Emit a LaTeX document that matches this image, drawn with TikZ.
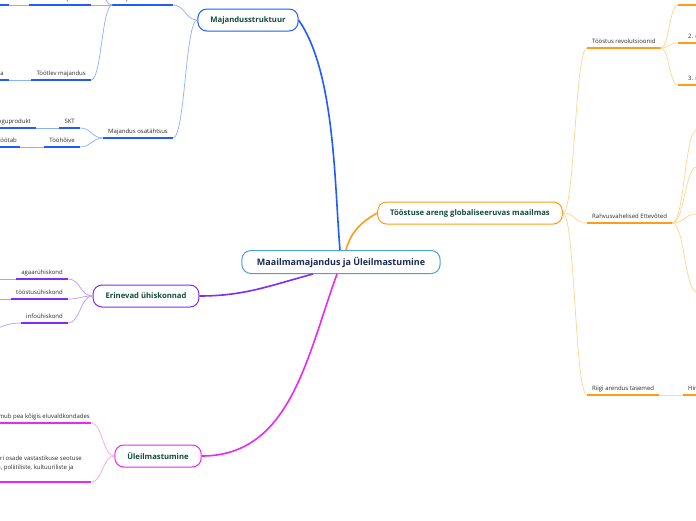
\documentclass[tikz,border=0pt]{standalone}
\usepackage{fontspec}
\setmainfont{Open Sans}
\usetikzlibrary{calc}

\definecolor{bordracine}{HTML}{4F9FD8}
\definecolor{texteracine}{HTML}{1B2A55}
\definecolor{textesujet}{HTML}{114D3C}
\definecolor{textefeuille}{HTML}{2B2B2B}
\definecolor{bleuvif}{HTML}{1F5BFF}
\definecolor{bleupale}{HTML}{8CB0FF}
\definecolor{violetvif}{HTML}{7D2EF5}
\definecolor{violetpale}{HTML}{B89BFF}
\definecolor{rosevif}{HTML}{EA28F5}
\definecolor{rosepale}{HTML}{F5A3FA}
\definecolor{orangevif}{HTML}{FF9C1A}
\definecolor{orangepale}{HTML}{FFD58F}

\begin{document}
\begin{tikzpicture}[
    x=1pt, y=-1pt,
    racine/.style={draw=bordracine, line width=1pt, rounded corners=9pt, fill=white,
      text=texteracine, font=\fontsize{9}{11}\selectfont\bfseries,
      minimum height=23pt, inner xsep=15pt},
    sujet/.style={draw=#1, line width=1pt, rounded corners=9pt, fill=white,
      text=textesujet, font=\fontsize{7.7}{9}\selectfont\bfseries,
      minimum height=22pt, inner xsep=12.5pt},
    feuille/.style={font=\fontsize{6}{7.5}\selectfont, text=textefeuille,
      inner xsep=5pt, inner ysep=2.5pt, text height=4.4pt, text depth=1.5pt,
      append after command={(\tikzlastnode.south west) edge[draw=#1, line width=1.4pt] (\tikzlastnode.south east)}},
    branche/.style={draw=#1, line width=1.6pt},
    lien/.style={draw=#1, line width=0.7pt},
    courbe/.style={to path={.. controls ($(\tikztostart)!.5!(\tikztotarget |- \tikztostart)$)
      and ($(\tikztotarget)!.5!(\tikztostart |- \tikztotarget)$) .. (\tikztotarget)}},
  ]
  \path[use as bounding box, fill=white] (0,0) rectangle (696,520);

  % le centre et les quatre sujets
  \node[racine] (monde) at (341,262) {Maailmamajandus ja Üleilmastumine};
  \node[sujet=bleuvif] (struktuur) at (248,20) {Majandusstruktuur};
  \node[sujet=violetvif] (yhiskond) at (146,296) {Erinevad ühiskonnad};
  \node[sujet=rosevif] (globaal) at (158,456) {Üleilmastumine};
  \node[sujet=orangevif] (toostus) at (470,213) {Tööstuse areng globaliseeruvas maailmas};

  \draw[branche=bleuvif] ([xshift=-1pt]monde.north) to[out=95,in=-55,looseness=.7] (struktuur.east);
  \draw[branche=orangevif] ([xshift=5pt]monde.north) to[out=75,in=210] (toostus.west);
  \draw[branche=violetvif] ([xshift=-28pt]monde.south) to[out=195,in=0] (yhiskond.east);
  \draw[branche=rosevif] ([xshift=-4pt]monde.south) to[out=250,in=0] (globaal.east);

  % Majandusstruktuur
  \node[feuille=bleuvif, anchor=south east] (sektorid) at (173,5) {Majandussektorid};
  \coordinate (sektor0) at (91,-25);
  \node[feuille=bleuvif, anchor=south east] (esmane) at (91,5) {Esmane majandus};
  \node[feuille=bleuvif, anchor=south east] (esmane2) at (9,5) {Põllumajandus, metsandus ja kalandus};
  \node[feuille=bleuvif, anchor=south east] (tootlev) at (91,80) {Töötlev majandus};
  \node[feuille=bleuvif, anchor=south east] (tootlev2) at (9,80) {Tööstus ja energeetika};
  \node[feuille=bleuvif, anchor=south east] (osa) at (173,138) {Majandus osatähtsus};
  \node[feuille=bleuvif, anchor=south east] (skt) at (80,128) {SKT};
  \node[feuille=bleuvif, anchor=south east] (kogu) at (36,128) {Sisemajanduse koguprodukt};
  \node[feuille=bleuvif, anchor=south east] (hoive) at (80,147) {Tööhõive};
  \node[feuille=bleuvif, anchor=south east, inner xsep=3pt] (tootab) at (20,147) {Kus rahvastik töötab};

  \draw[lien=bleupale] (struktuur.west) to[courbe] (sektorid.south east);
  \draw[lien=bleupale] (struktuur.west) to[courbe] (osa.south east);
  \draw[lien=bleupale] (sektorid.south west) to[courbe] (sektor0);
  \draw[lien=bleupale] (sektorid.south west) to[courbe] (esmane.south east);
  \draw[lien=bleupale] (sektorid.south west) to[courbe] (tootlev.south east);
  \draw[lien=bleupale] (esmane.south west) -- (esmane2.south east);
  \draw[lien=bleupale] (tootlev.south west) -- (tootlev2.south east);
  \draw[lien=bleupale] (osa.south west) to[courbe] (skt.south east);
  \draw[lien=bleupale] (osa.south west) to[courbe] (hoive.south east);
  \draw[lien=bleupale] (skt.south west) -- (kogu.south east);
  \draw[lien=bleupale] (hoive.south west) -- (tootab.south east);

  % Erinevad ühiskonnad
  \node[feuille=violetvif, anchor=south east] (agraar) at (68,279) {agaarühiskond};
  \node[feuille=violetvif, anchor=south east] (toostusyh) at (68,299) {tööstusühiskond};
  \node[feuille=violetvif, anchor=south east] (info) at (68,323) {infoühiskond};
  \coordinate (agraar2) at (-10,279);
  \coordinate (toostusyh2) at (-10,299);
  \coordinate (info2) at (-20,331);

  \draw[lien=violetpale] (yhiskond.west) to[courbe] (agraar.south east);
  \draw[lien=violetpale] (yhiskond.west) to[courbe] (toostusyh.south east);
  \draw[lien=violetpale] (yhiskond.west) to[courbe] (info.south east);
  \draw[lien=violetpale] (agraar.south west) -- (agraar2);
  \draw[lien=violetpale] (toostusyh.south west) -- (toostusyh2);
  \draw[lien=violetpale] (info.south west) to[courbe] (info2);

  % Üleilmastumine
  \node[feuille=rosevif, anchor=south east, inner xsep=1pt] (valdkond) at (91,423) {Üleilmastumine toimub pea kõigis eluvaldkondades};
  \node[feuille=rosevif, anchor=south east, align=center, inner xsep=9pt, inner ysep=3.5pt,
    font=\fontsize{6}{9}\selectfont, text height=, text depth=]
    (seotus) at (91,482) {Üleilmastumine on maailma eri osade vastastikuse seotuse\\suurenemine majanduslike, poliitiliste, kultuuriliste ja\\\mbox{}};

  \draw[lien=rosepale] (globaal.west) to[courbe] (valdkond.south east);
  \draw[lien=rosepale] (globaal.west) to[courbe] (seotus.south east);

  % Tööstuse areng
  \node[feuille=orangevif, anchor=south west] (revol) at (587,48) {Tööstus revolutsioonid};
  \node[feuille=orangevif, anchor=south west, inner xsep=10pt] (rev1) at (678,5) {1. revolutsioon};
  \node[feuille=orangevif, anchor=south west, inner xsep=10pt] (rev2) at (678,43) {2. revolutsioon};
  \node[feuille=orangevif, anchor=south west, inner xsep=10pt] (rev3) at (678,85) {3. revolutsioon};
  \node[feuille=orangevif, anchor=south west] (firmad) at (587,223) {Rahvusvahelised Ettevõted};
  \coordinate (firma1) at (697,130);
  \coordinate (firma2) at (697,167);
  \coordinate (firma3) at (697,214);
  \coordinate (firma4) at (697,292);
  \node[feuille=orangevif, anchor=south west] (tasemed) at (587,395) {Riigi arendus tasemed};
  \node[feuille=orangevif, anchor=south west] (hinnang) at (683,395) {Hinnangud};

  \draw[lien=orangepale] (toostus.east) to[courbe] (revol.south west);
  \draw[lien=orangepale] (toostus.east) to[courbe] (firmad.south west);
  \draw[lien=orangepale] (toostus.east) to[courbe] (tasemed.south west);
  \draw[lien=orangepale] (revol.south east) to[courbe] (rev1.south west);
  \draw[lien=orangepale] (revol.south east) to[courbe] (rev2.south west);
  \draw[lien=orangepale] (revol.south east) to[courbe] (rev3.south west);
  \draw[lien=orangepale] (firmad.south east) to[courbe] (firma1);
  \draw[lien=orangepale] (firmad.south east) to[courbe] (firma2);
  \draw[lien=orangepale] (firmad.south east) to[courbe] (firma3);
  \draw[lien=orangepale] (firmad.south east) to[courbe] (firma4);
  \draw[lien=orangepale] (tasemed.south east) -- (hinnang.south west);
\end{tikzpicture}
\end{document}
